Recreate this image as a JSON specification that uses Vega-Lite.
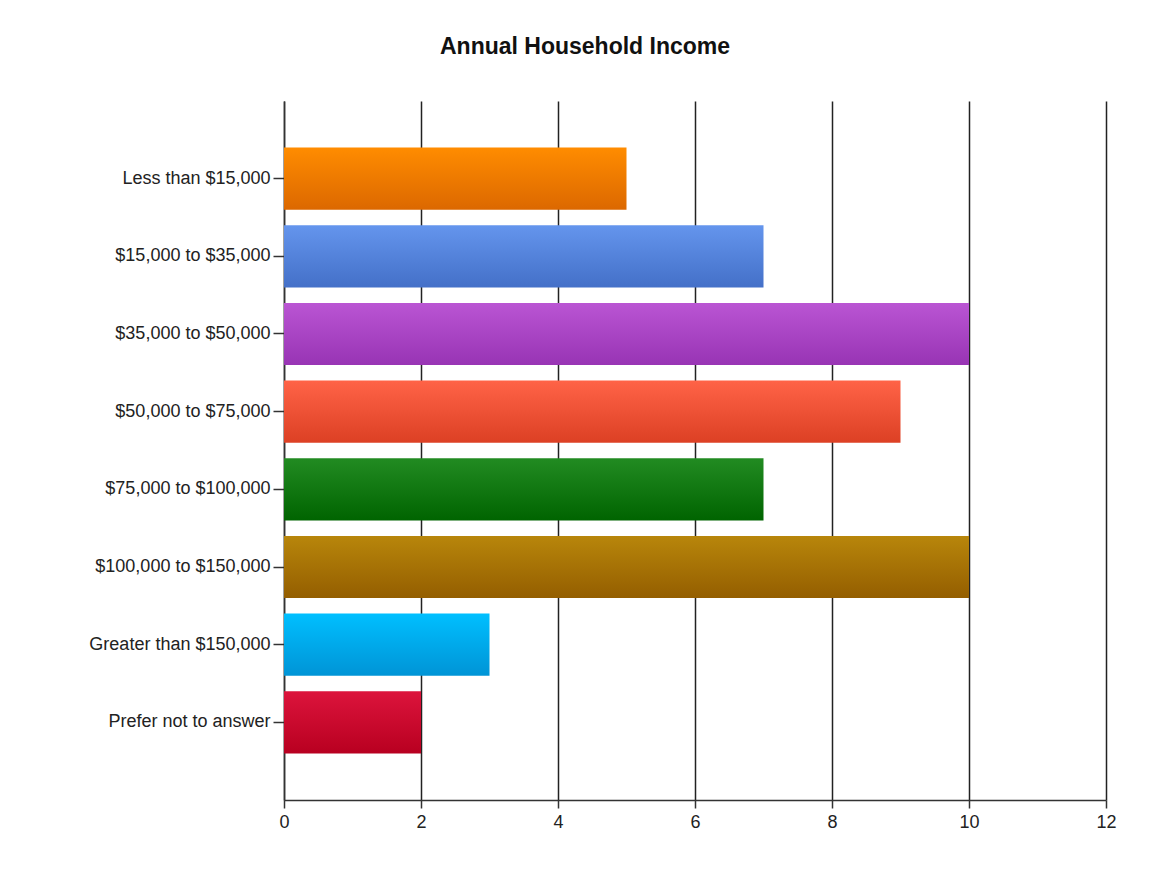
{
  "$schema": "https://vega.github.io/schema/vega-lite/v6.json",
  "width": 822,
  "height": 699,
  "autosize": {"type": "none"},
  "padding": {"left": 284, "top": 101, "right": 50, "bottom": 72},
  "background": "#ffffff",
  "title": {
    "text": "Annual Household Income",
    "font": "Liberation Sans",
    "fontSize": 23,
    "fontWeight": "bold",
    "color": "#111111",
    "anchor": "middle",
    "frame": "group",
    "baseline": "alphabetic",
    "offset": 46,
    "dx": -110,
    "dy": 22
  },
  "data": {
    "values": [
      {"category": "Less than $15,000", "count": 5},
      {"category": "$15,000 to $35,000", "count": 7},
      {"category": "$35,000 to $50,000", "count": 10},
      {"category": "$50,000 to $75,000", "count": 9},
      {"category": "$75,000 to $100,000", "count": 7},
      {"category": "$100,000 to $150,000", "count": 10},
      {"category": "Greater than $150,000", "count": 3},
      {"category": "Prefer not to answer", "count": 2}
    ]
  },
  "mark": {"type": "bar"},
  "encoding": {
    "y": {
      "field": "category",
      "type": "nominal",
      "sort": null,
      "scale": {"paddingInner": 0.2, "paddingOuter": 0.6},
      "axis": {
        "title": null,
        "tickSize": 11,
        "tickColor": "#333333",
        "tickWidth": 1.5,
        "domainColor": "#333333",
        "domainWidth": 1.5,
        "labelFont": "Liberation Sans",
        "labelFontSize": 18,
        "labelColor": "#222222",
        "labelPadding": 3,
        "labelLimit": 400
      }
    },
    "x": {
      "field": "count",
      "type": "quantitative",
      "scale": {"domain": [0, 12], "nice": false},
      "axis": {
        "title": null,
        "values": [0, 2, 4, 6, 8, 10, 12],
        "tickSize": 8,
        "tickColor": "#333333",
        "tickWidth": 1.5,
        "domainColor": "#333333",
        "domainWidth": 1.5,
        "grid": true,
        "gridColor": "#222222",
        "gridWidth": 1.5,
        "labelFont": "Liberation Sans",
        "labelFontSize": 18,
        "labelColor": "#222222",
        "labelPadding": 5,
        "labelFlush": false
      }
    },
    "fill": {
      "condition": [
        {"test": "datum.category === 'Less than $15,000'", "value": {"gradient": "linear", "x1": 0, "y1": 0, "x2": 0, "y2": 1, "stops": [{"offset": 0, "color": "#FF8C00"}, {"offset": 1, "color": "#DC6800"}]}},
        {"test": "datum.category === '$15,000 to $35,000'", "value": {"gradient": "linear", "x1": 0, "y1": 0, "x2": 0, "y2": 1, "stops": [{"offset": 0, "color": "#6495ED"}, {"offset": 1, "color": "#4470C8"}]}},
        {"test": "datum.category === '$35,000 to $50,000'", "value": {"gradient": "linear", "x1": 0, "y1": 0, "x2": 0, "y2": 1, "stops": [{"offset": 0, "color": "#BA55D3"}, {"offset": 1, "color": "#9834B4"}]}},
        {"test": "datum.category === '$50,000 to $75,000'", "value": {"gradient": "linear", "x1": 0, "y1": 0, "x2": 0, "y2": 1, "stops": [{"offset": 0, "color": "#FF6347"}, {"offset": 1, "color": "#DC4024"}]}},
        {"test": "datum.category === '$75,000 to $100,000'", "value": {"gradient": "linear", "x1": 0, "y1": 0, "x2": 0, "y2": 1, "stops": [{"offset": 0, "color": "#228B22"}, {"offset": 1, "color": "#006400"}]}},
        {"test": "datum.category === '$100,000 to $150,000'", "value": {"gradient": "linear", "x1": 0, "y1": 0, "x2": 0, "y2": 1, "stops": [{"offset": 0, "color": "#B8860B"}, {"offset": 1, "color": "#945E00"}]}},
        {"test": "datum.category === 'Greater than $150,000'", "value": {"gradient": "linear", "x1": 0, "y1": 0, "x2": 0, "y2": 1, "stops": [{"offset": 0, "color": "#00BFFF"}, {"offset": 1, "color": "#0094D6"}]}},
        {"test": "datum.category === 'Prefer not to answer'", "value": {"gradient": "linear", "x1": 0, "y1": 0, "x2": 0, "y2": 1, "stops": [{"offset": 0, "color": "#DC143C"}, {"offset": 1, "color": "#B80020"}]}}
      ],
      "value": "#888888"
    }
  },
  "config": {
    "view": {"stroke": null}
  }
}
